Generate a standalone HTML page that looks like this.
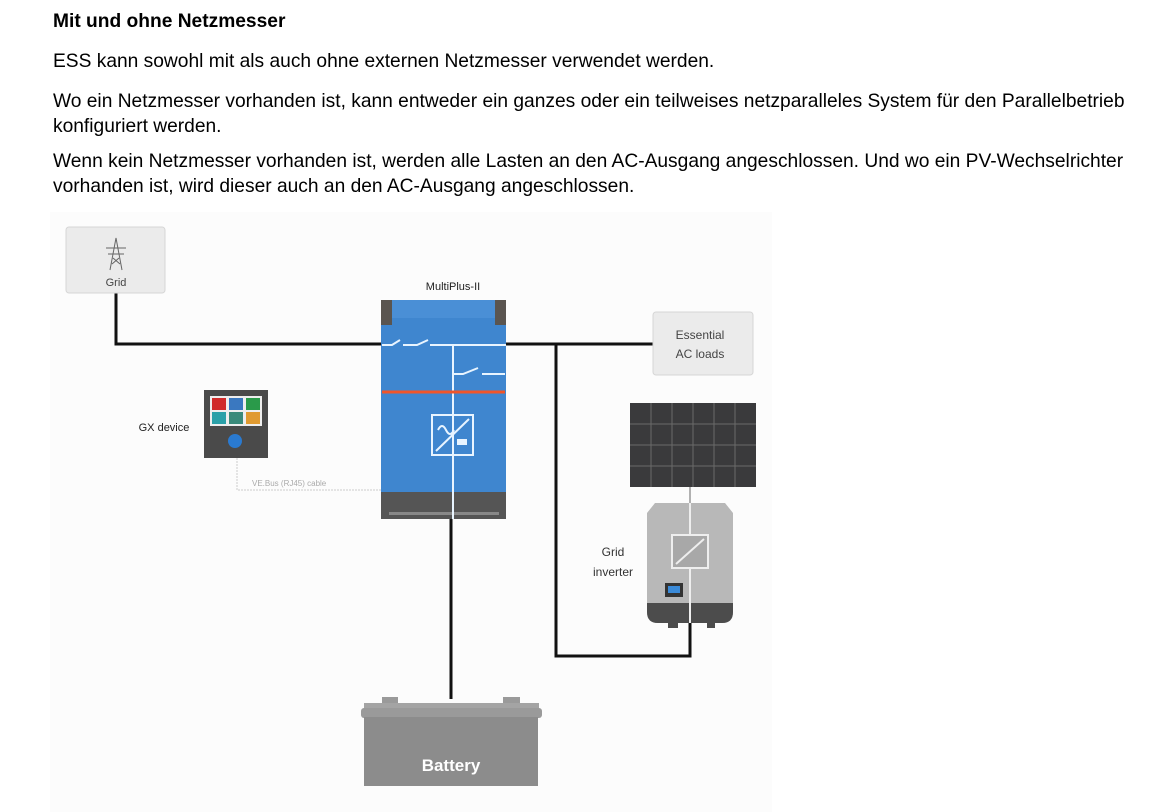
<!DOCTYPE html>
<html><head><meta charset="utf-8"><style>
body{margin:0;width:1154px;height:812px;background:#fff;font-family:"Liberation Sans",Arial,sans-serif;color:#000;position:relative;overflow:hidden}
.t{position:absolute;left:53px;font-size:19.2px;line-height:24.5px;white-space:nowrap}
</style></head><body>
<div class="t" style="top:10px;font-weight:bold">Mit und ohne Netzmesser</div>
<div class="t" style="top:50px">ESS kann sowohl mit als auch ohne externen Netzmesser verwendet werden.</div>
<div class="t" style="top:90px">Wo ein Netzmesser vorhanden ist, kann entweder ein ganzes oder ein teilweises netzparalleles System für den Parallelbetrieb<br>konfiguriert werden.</div>
<div class="t" style="top:150px">Wenn kein Netzmesser vorhanden ist, werden alle Lasten an den AC-Ausgang angeschlossen. Und wo ein PV-Wechselrichter<br>vorhanden ist, wird dieser auch an den AC-Ausgang angeschlossen.</div>
<svg width="1154" height="812" style="position:absolute;left:0;top:0" font-family="Liberation Sans, Arial, sans-serif">
<rect x="50" y="212" width="722" height="600" fill="#fcfcfc"/>
<g stroke="#111" stroke-width="3" fill="none">
<polyline points="116,293 116,344 382,344"/>
<line x1="506" y1="344" x2="653" y2="344"/>
<polyline points="556,344 556,656 690,656 690,622"/>
<line x1="451" y1="519" x2="451" y2="699"/>
</g>
<rect x="66" y="227" width="99" height="66" rx="3" fill="#ebebeb" stroke="#d6d6d6"/>
<g stroke="#666" stroke-width="1" fill="none"><path d="M110,270 L116,238 L122,270 M106,248 H126 M108,254 H124 M113,258 L120,264 M119,258 L112,264"/></g>
<text x="116" y="286" font-size="11" text-anchor="middle" fill="#444">Grid</text>
<text x="453" y="290" font-size="11" text-anchor="middle" fill="#222">MultiPlus-II</text>
<rect x="381" y="300" width="125" height="219" fill="#3f86cf"/>
<rect x="381" y="300" width="125" height="18" fill="#4a8fd6"/>
<rect x="381" y="300" width="11" height="25" fill="#5a5550"/>
<rect x="495" y="300" width="11" height="25" fill="#5a5550"/>
<rect x="381" y="492" width="125" height="27" fill="#555"/>
<rect x="389" y="512" width="110" height="3" fill="#888"/>
<g stroke="#e8f4ff" stroke-width="2" fill="none">
<path d="M382,345 H392 L400,340 M403,345 H417 L428,340 M430,345 H506"/>
<path d="M453,345 V519"/>
<path d="M453,374 H463 L478,368 M482,374 H505"/>
<rect x="432" y="415" width="41" height="40"/>
<path d="M436,451 L469,419 M438,430 q4,-8 8,0 q4,8 8,0"/>
<rect x="458" y="440" width="8" height="4" fill="#e8f4ff"/>
</g>
<line x1="382" y1="392" x2="505" y2="392" stroke="#f0552a" stroke-width="3"/>
<text x="164" y="431" font-size="11" text-anchor="middle" fill="#222">GX device</text>
<rect x="204" y="390" width="64" height="68" fill="#4a4a4a"/>
<rect x="210" y="396" width="52" height="30" fill="#eee"/>
<rect x="212" y="398" width="14" height="12" fill="#d02b2b"/><rect x="229" y="398" width="14" height="12" fill="#3a78c0"/><rect x="246" y="398" width="14" height="12" fill="#2a9a4a"/>
<rect x="212" y="412" width="14" height="12" fill="#2aa0a8"/><rect x="229" y="412" width="14" height="12" fill="#3a8a7a"/><rect x="246" y="412" width="14" height="12" fill="#e09a30"/>
<circle cx="235" cy="441" r="7" fill="#2a7ad0"/>
<path d="M237,458 V490 H381" stroke="#ccc" stroke-dasharray="2,1" fill="none"/>
<text x="252" y="486" font-size="8" fill="#aaa">VE.Bus (RJ45) cable</text>
<rect x="653" y="312" width="100" height="63" rx="3" fill="#ebebeb" stroke="#d6d6d6"/>
<text x="700" y="339" font-size="12" text-anchor="middle" fill="#444">Essential</text>
<text x="700" y="358" font-size="12" text-anchor="middle" fill="#444">AC loads</text>
<rect x="630" y="403" width="126" height="84" fill="#3a3a3c"/>
<g stroke="#6a6a6a" stroke-width="1">
<line x1="651" y1="403" x2="651" y2="487"/><line x1="672" y1="403" x2="672" y2="487"/><line x1="693" y1="403" x2="693" y2="487"/><line x1="714" y1="403" x2="714" y2="487"/><line x1="735" y1="403" x2="735" y2="487"/>
<line x1="630" y1="424" x2="756" y2="424"/><line x1="630" y1="445" x2="756" y2="445"/><line x1="630" y1="466" x2="756" y2="466"/>
</g>
<line x1="690" y1="487" x2="690" y2="503" stroke="#666"/>
<path d="M655,503 H725 L733,513 V612 Q733,623 722,623 H658 Q647,623 647,612 V513 Z" fill="#b8b8b8"/>
<path d="M647,603 H733 V612 Q733,623 722,623 H658 Q647,623 647,612 Z" fill="#4c4c4c"/>
<rect x="668" y="623" width="10" height="5" fill="#4c4c4c"/><rect x="707" y="623" width="8" height="5" fill="#4c4c4c"/>
<line x1="690" y1="503" x2="690" y2="623" stroke="#eee" stroke-width="2"/>
<rect x="672" y="535" width="36" height="33" fill="#a8a8a8" stroke="#eee" stroke-width="2"/>
<line x1="676" y1="564" x2="704" y2="539" stroke="#eee" stroke-width="2"/>
<rect x="665" y="583" width="18" height="14" fill="#333"/><rect x="668" y="586" width="12" height="7" fill="#3a8ad8"/>
<text x="613" y="556" font-size="12" text-anchor="middle" fill="#333">Grid</text>
<text x="613" y="576" font-size="12" text-anchor="middle" fill="#333">inverter</text>
<rect x="382" y="697" width="16" height="8" fill="#9a9a9a"/><rect x="503" y="697" width="17" height="8" fill="#9a9a9a"/>
<rect x="364" y="703" width="175" height="14" fill="#a4a4a4"/>
<rect x="361" y="708" width="181" height="10" rx="3" fill="#9a9a9a"/>
<rect x="364" y="717" width="174" height="69" fill="#8c8c8c"/>
<text x="451" y="771" font-size="17" font-weight="bold" text-anchor="middle" fill="#fff">Battery</text>
</svg>
</body></html>
